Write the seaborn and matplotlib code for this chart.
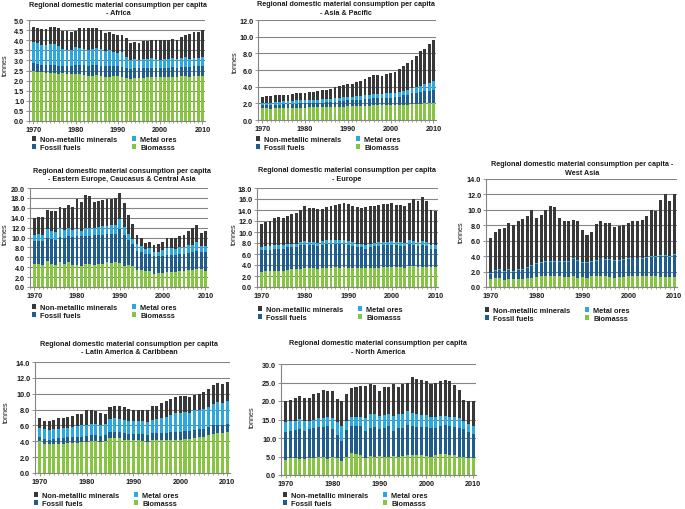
import numpy as np
import pandas as pd
import seaborn as sns
import matplotlib.pyplot as plt
from matplotlib.patches import Patch
from matplotlib.ticker import FormatStrFormatter, MultipleLocator

years = list(range(1970, 2011))
series_names = ["Non-metallic minerals", "Metal ores", "Fossil fuels", "Biomasss"]

# tonnes per capita, one list per material, 1970..2010
africa_bio = [2.5, 2.45, 2.45, 2.4, 2.4, 2.4, 2.35, 2.4, 2.35, 2.35, 2.35, 2.35, 2.3, 2.25, 2.25, 2.3, 2.25, 2.2, 2.2, 2.25,
              2.25, 2.2, 2.15, 2.1, 2.15, 2.15, 2.15, 2.2, 2.2, 2.2, 2.2, 2.2, 2.2, 2.2, 2.2, 2.25, 2.25, 2.2, 2.25, 2.25, 2.25]
africa_fossil = [0.35, 0.35, 0.3, 0.35, 0.35, 0.35, 0.35, 0.3, 0.35, 0.35, 0.4, 0.4, 0.45, 0.45, 0.5, 0.45, 0.45, 0.5, 0.5, 0.45,
                 0.45, 0.45, 0.45, 0.45, 0.45, 0.45, 0.45, 0.4, 0.4, 0.4, 0.4, 0.4, 0.4, 0.45, 0.4, 0.4, 0.4, 0.45, 0.45, 0.45, 0.45]
africa_metal = [1.05, 1.05, 1.0, 1.0, 1.05, 1.05, 1.0, 0.85, 0.8, 0.8, 0.9, 0.85, 0.8, 0.8, 0.8, 0.85, 0.85, 0.75, 0.8, 0.7,
                0.65, 0.75, 0.55, 0.45, 0.45, 0.4, 0.45, 0.45, 0.5, 0.45, 0.4, 0.45, 0.45, 0.45, 0.45, 0.45, 0.5, 0.4, 0.4, 0.4, 0.45]
africa_nonmet = [0.75, 0.75, 0.8, 0.8, 0.85, 0.85, 0.9, 0.9, 0.95, 0.9, 0.8, 1.0, 1.05, 1.1, 1.05, 1.0, 0.95, 0.9, 0.9, 0.9,
                 0.9, 0.85, 0.95, 0.85, 0.85, 0.85, 0.9, 0.9, 0.9, 0.95, 1.0, 0.95, 0.95, 0.95, 0.95, 1.05, 1.1, 1.25, 1.3, 1.3, 1.35]

asia_bio = [1.4, 1.4, 1.35, 1.4, 1.4, 1.45, 1.45, 1.5, 1.5, 1.5, 1.5, 1.55, 1.55, 1.55, 1.55, 1.55, 1.6, 1.6, 1.6, 1.6,
            1.65, 1.65, 1.65, 1.65, 1.7, 1.7, 1.75, 1.75, 1.75, 1.75, 1.75, 1.75, 1.8, 1.85, 1.85, 1.9, 1.9, 1.95, 2.0, 2.05, 2.05]
asia_fossil = [0.35, 0.4, 0.45, 0.45, 0.45, 0.45, 0.45, 0.45, 0.45, 0.5, 0.5, 0.5, 0.5, 0.55, 0.55, 0.6, 0.6, 0.6, 0.65, 0.7,
               0.7, 0.7, 0.75, 0.8, 0.8, 0.85, 0.85, 0.85, 0.9, 0.9, 0.95, 1.0, 1.0, 1.1, 1.2, 1.3, 1.4, 1.4, 1.45, 1.45, 1.55]
asia_metal = [0.35, 0.3, 0.3, 0.35, 0.35, 0.35, 0.35, 0.35, 0.4, 0.35, 0.35, 0.35, 0.35, 0.35, 0.4, 0.35, 0.35, 0.4, 0.45, 0.45,
              0.45, 0.45, 0.45, 0.45, 0.45, 0.45, 0.5, 0.5, 0.5, 0.55, 0.55, 0.55, 0.55, 0.5, 0.55, 0.6, 0.65, 0.75, 0.85, 1.0, 1.05]
asia_nonmet = [0.7, 0.75, 0.75, 0.8, 0.8, 0.8, 0.8, 0.85, 0.95, 0.95, 0.95, 0.95, 1.0, 1.05, 1.1, 1.1, 1.2, 1.35, 1.35, 1.4,
               1.5, 1.55, 1.75, 1.8, 1.95, 2.2, 2.3, 2.3, 2.15, 2.3, 2.45, 2.5, 2.75, 3.05, 3.3, 3.4, 3.75, 4.2, 4.2, 4.6, 4.95]

eeca_bio = [4.7, 4.6, 4.4, 5.3, 4.7, 4.4, 5.1, 4.6, 5.1, 4.5, 4.4, 4.2, 4.6, 4.6, 4.5, 4.7, 4.7, 5.0, 4.8, 5.0,
            4.9, 4.3, 4.4, 4.2, 3.5, 3.4, 3.2, 3.2, 2.6, 2.8, 2.9, 3.1, 3.1, 3.0, 3.3, 3.3, 3.4, 3.5, 3.7, 3.6, 3.3]
eeca_fossil = [4.5, 4.6, 4.8, 4.7, 4.9, 5.1, 5.0, 5.4, 5.2, 5.6, 5.9, 6.2, 5.7, 5.7, 6.0, 5.8, 5.9, 5.7, 6.0, 5.8,
               6.9, 6.3, 5.0, 4.4, 3.8, 3.6, 3.4, 3.4, 3.6, 3.4, 3.4, 3.3, 3.3, 3.5, 3.3, 3.3, 3.5, 3.5, 3.6, 3.4, 3.7]
eeca_metal = [1.3, 1.5, 1.4, 1.7, 1.7, 1.6, 1.9, 1.5, 1.7, 1.4, 1.4, 1.0, 1.6, 1.6, 1.5, 1.7, 1.8, 1.6, 1.7, 1.7,
              2.0, 1.6, 1.4, 1.0, 1.3, 1.3, 1.1, 1.2, 0.9, 0.8, 1.1, 1.5, 1.4, 1.2, 1.4, 1.4, 1.5, 1.5, 1.8, 1.3, 1.3]
eeca_nonmet = [3.4, 3.4, 3.6, 3.9, 4.0, 4.2, 4.2, 4.5, 4.6, 4.7, 6.0, 5.8, 6.7, 6.5, 5.2, 5.1, 5.1, 5.5, 5.3, 5.5,
               5.1, 4.8, 3.7, 3.1, 2.0, 1.7, 1.2, 1.2, 1.3, 1.6, 1.6, 2.0, 2.1, 2.2, 2.4, 2.6, 2.9, 3.4, 3.5, 2.7, 3.0]

europe_bio = [2.8, 2.9, 2.9, 3.0, 3.0, 3.0, 3.1, 3.2, 3.3, 3.3, 3.4, 3.4, 3.4, 3.3, 3.5, 3.5, 3.5, 3.6, 3.5, 3.6,
              3.5, 3.5, 3.4, 3.4, 3.4, 3.5, 3.5, 3.5, 3.7, 3.7, 3.7, 3.7, 3.7, 3.5, 3.8, 3.8, 3.6, 3.6, 3.7, 3.6, 3.6]
europe_fossil = [3.9, 3.9, 3.9, 4.0, 4.0, 4.0, 4.1, 4.1, 4.0, 4.3, 4.3, 4.2, 4.2, 4.1, 4.2, 4.3, 4.4, 4.2, 4.3, 4.2,
                 4.1, 4.0, 3.9, 3.8, 3.6, 3.7, 3.9, 4.0, 3.9, 3.9, 4.0, 3.9, 3.8, 3.9, 4.0, 3.9, 3.9, 4.0, 3.8, 3.3, 3.3]
europe_metal = [0.5, 0.6, 0.6, 0.6, 0.6, 0.6, 0.6, 0.6, 0.6, 0.6, 0.6, 0.6, 0.6, 0.6, 0.6, 0.7, 0.7, 0.7, 0.7, 0.7,
                0.7, 0.7, 0.6, 0.6, 0.6, 0.6, 0.6, 0.6, 0.6, 0.6, 0.6, 0.6, 0.6, 0.6, 0.7, 0.7, 0.7, 0.7, 0.7, 0.7, 0.7]
europe_nonmet = [4.3, 4.5, 4.6, 4.9, 5.1, 5.0, 5.2, 5.4, 5.6, 5.8, 6.5, 6.1, 6.1, 6.1, 5.9, 6.0, 6.2, 6.4, 6.6, 6.8,
                 6.8, 6.6, 6.7, 6.6, 6.9, 7.0, 6.8, 6.8, 6.9, 6.9, 6.9, 6.8, 6.8, 6.7, 6.8, 7.6, 7.4, 8.1, 7.5, 6.4, 6.3]

wasia_bio = [1.1, 1.2, 1.2, 0.9, 1.1, 1.1, 1.1, 1.0, 1.2, 1.2, 1.3, 1.4, 1.4, 1.4, 1.4, 1.4, 1.3, 1.3, 1.4, 1.2,
             1.3, 1.2, 1.4, 1.4, 1.4, 1.4, 1.3, 1.2, 1.3, 1.3, 1.4, 1.4, 1.4, 1.4, 1.4, 1.4, 1.4, 1.3, 1.3, 1.3, 1.3]
wasia_fossil = [0.6, 0.9, 1.0, 1.1, 1.1, 0.9, 1.1, 1.2, 1.3, 1.5, 1.7, 1.7, 1.9, 1.9, 1.9, 1.9, 2.0, 2.0, 2.2, 2.2,
                1.8, 1.9, 1.9, 2.0, 2.3, 2.1, 2.2, 2.2, 2.1, 2.2, 2.2, 2.3, 2.3, 2.2, 2.4, 2.5, 2.5, 2.7, 2.7, 2.6, 2.8]
wasia_metal = [0.1, 0.1, 0.1, 0.1, 0.1, 0.1, 0.1, 0.1, 0.1, 0.1, 0.1, 0.1, 0.1, 0.1, 0.1, 0.1, 0.1, 0.1, 0.1, 0.1,
               0.1, 0.1, 0.1, 0.1, 0.1, 0.1, 0.1, 0.1, 0.1, 0.1, 0.1, 0.1, 0.1, 0.1, 0.1, 0.1, 0.1, 0.1, 0.1, 0.1, 0.2]
wasia_nonmet = [4.6, 4.9, 5.2, 5.6, 6.0, 5.9, 6.3, 6.5, 6.6, 7.2, 5.9, 6.1, 6.6, 7.1, 7.0, 5.5, 5.1, 5.2, 5.0, 5.1,
                4.2, 3.5, 3.7, 4.7, 4.7, 4.7, 4.7, 4.3, 4.4, 4.4, 4.6, 4.8, 4.7, 5.0, 5.3, 6.0, 5.8, 7.2, 8.0, 7.2, 7.8]

latam_bio = [4.0, 3.7, 3.6, 3.6, 3.7, 3.7, 3.8, 3.8, 3.8, 3.9, 3.9, 4.0, 4.0, 3.9, 4.0, 4.4, 4.4, 4.4, 4.2, 4.1,
             4.1, 4.1, 4.0, 3.9, 4.1, 4.1, 4.2, 4.2, 4.2, 4.2, 4.2, 4.3, 4.3, 4.4, 4.5, 4.6, 4.8, 4.9, 5.1, 5.0, 5.2]
latam_fossil = [0.6, 0.6, 0.6, 0.7, 0.7, 0.7, 0.7, 0.7, 0.8, 0.7, 0.8, 0.8, 0.8, 0.8, 0.8, 0.8, 0.8, 0.8, 0.8, 0.8,
                0.8, 0.8, 0.9, 0.9, 0.9, 0.9, 0.9, 0.9, 1.0, 1.0, 1.0, 1.0, 1.0, 1.0, 1.0, 1.0, 1.0, 1.1, 1.0, 1.0, 1.0]
latam_metal = [1.1, 1.2, 1.2, 1.2, 1.2, 1.3, 1.2, 1.3, 1.3, 1.4, 1.4, 1.4, 1.4, 1.4, 1.4, 1.6, 1.7, 1.6, 1.7, 1.7,
               1.6, 1.6, 1.6, 1.6, 1.7, 1.8, 1.9, 2.0, 2.1, 2.4, 2.4, 2.4, 2.3, 2.5, 2.5, 2.5, 2.5, 2.7, 2.9, 2.8, 2.9]
latam_nonmet = [1.2, 1.1, 1.2, 1.2, 1.3, 1.3, 1.4, 1.4, 1.5, 1.5, 1.8, 1.8, 1.6, 1.5, 1.3, 1.5, 1.5, 1.6, 1.6, 1.5,
                1.5, 1.5, 1.5, 1.5, 1.7, 1.6, 1.8, 2.0, 2.0, 2.0, 2.1, 2.0, 2.0, 1.9, 2.0, 2.1, 2.3, 2.4, 2.4, 2.4, 2.4]

namer_bio = [4.1, 4.5, 4.6, 4.4, 4.2, 4.5, 4.6, 4.8, 4.8, 4.4, 4.8, 4.7, 3.9, 4.8, 5.9, 5.7, 5.5, 4.6, 5.1, 5.0,
             5.1, 4.9, 4.8, 5.1, 4.8, 5.1, 5.3, 5.4, 5.3, 5.3, 5.2, 5.0, 5.5, 5.7, 5.6, 5.4, 5.4, 5.0, 4.8, 4.7, 4.5]
namer_fossil = [7.4, 7.4, 7.6, 7.9, 7.6, 8.0, 8.2, 8.3, 8.2, 8.8, 7.5, 6.1, 5.4, 7.4, 7.3, 7.6, 7.7, 7.4, 7.6, 8.0,
                7.4, 7.9, 8.5, 6.9, 7.8, 7.5, 8.2, 7.8, 7.8, 7.7, 7.8, 7.8, 7.1, 7.6, 7.9, 7.9, 7.5, 7.7, 7.5, 7.0, 6.6]
namer_metal = [2.7, 2.6, 2.5, 2.8, 2.8, 2.1, 2.2, 2.3, 2.3, 2.5, 3.1, 3.4, 3.9, 2.5, 2.4, 2.4, 2.6, 3.3, 3.7, 3.6,
               3.5, 3.3, 3.3, 4.0, 3.8, 4.0, 3.8, 3.6, 3.4, 3.3, 3.2, 2.9, 3.2, 2.7, 2.5, 2.5, 2.7, 2.6, 2.3, 2.2, 2.2]
namer_nonmet = [5.7, 5.9, 6.2, 6.3, 6.3, 6.3, 6.8, 6.7, 7.6, 7.1, 7.2, 6.3, 6.7, 7.2, 7.8, 8.2, 8.3, 8.8, 8.1, 7.7,
                6.8, 7.8, 7.1, 8.6, 7.5, 8.0, 7.7, 9.6, 9.4, 9.4, 9.2, 9.0, 9.1, 9.5, 9.6, 9.7, 8.7, 7.7, 5.7, 6.1, 6.7]

colors = {"Non-metallic minerals": "#383838", "Metal ores": "#2aa8df",
          "Fossil fuels": "#1e5d8e", "Biomasss": "#86c441"}

sns.set_theme(style="white")
plt.rcParams["font.family"] = ["Liberation Sans", "DejaVu Sans"]
txt = "#1a1a1a"

fig = plt.figure(figsize=(6.85, 5.1), dpi=100)
W, H = 685, 510


def fx(x):
    return x / W


def fy(y):
    return 1 - y / H


# (title, data, ymax, ystep, axes box px (l, t, r, b), title centre, ylabel pos, legend anchor)
panels = [
    ("Regional domestic material consumption per capita\n- Africa",
     (africa_nonmet, africa_metal, africa_fossil, africa_bio), 5.0, 0.5,
     (29, 21, 205, 122), (118, 9.5), (5, 65), (32, 137)),
    ("Regional domestic material consumption per capita\n- Asia & Pacific",
     (asia_nonmet, asia_metal, asia_fossil, asia_bio), 12.0, 2.0,
     (258, 21, 436, 121), (346, 9), (235, 62), (256, 137)),
    ("Regional domestic material consumption per capita\n- Eastern Europe, Caucasus & Central Asia",
     (eeca_nonmet, eeca_metal, eeca_fossil, eeca_bio), 20.0, 2.0,
     (30, 189, 208, 288), (122, 175.5), (5, 234), (32, 305)),
    ("Regional domestic material consumption per capita\n- Europe",
     (europe_nonmet, europe_metal, europe_fossil, europe_bio), 18.0, 2.0,
     (257, 189, 438, 288), (347, 175), (234, 234), (258, 307)),
    ("Regional domestic material consumption per capita -\nWest Asia",
     (wasia_nonmet, wasia_metal, wasia_fossil, wasia_bio), 14.0, 2.0,
     (486, 180, 677, 288), (582, 169), (461, 232), (485, 308)),
    ("Regional domestic material consumption per capita\n- Latin America & Caribbean",
     (latam_nonmet, latam_metal, latam_fossil, latam_bio), 14.0, 2.0,
     (35, 363, 230, 474), (129, 348.5), (6, 412), (34, 493)),
    ("Regional domestic material consumption per capita\n- North America",
     (namer_nonmet, namer_metal, namer_fossil, namer_bio), 30.0, 5.0,
     (281, 365, 476, 476), (378, 348), (252, 417), (283, 493)),
]

for title, data, ymax, ystep, box, tpos, lpos, legpos in panels:
    l, t, r, b = box
    ax = fig.add_axes([fx(l), fy(b), fx(r - l), (b - t) / H])
    df = pd.DataFrame(dict(zip(series_names, data)))
    df["year"] = years
    # stacked: draw cumulative heights from the tallest down
    stack_order = ["Biomasss", "Fossil fuels", "Metal ores", "Non-metallic minerals"]
    cum = df[stack_order].cumsum(axis=1)
    for name in reversed(stack_order):
        sns.barplot(x=df["year"], y=cum[name], native_scale=True, color=colors[name],
                    saturation=1, width=0.66, errorbar=None, linewidth=0, ax=ax)
    ax.set_xlim(1969, 2010.6)
    ax.set_ylim(0, ymax)
    ax.set_xticks([1970, 1980, 1990, 2000, 2010])
    ax.xaxis.set_minor_locator(MultipleLocator(1))
    ax.set_yticks(np.arange(0, ymax + ystep / 2, ystep))
    ax.yaxis.set_major_formatter(FormatStrFormatter("%.1f"))
    ax.set_xlabel("")
    ax.set_ylabel("")
    ax.grid(axis="y", color="#858585", lw=0.8)
    ax.set_axisbelow(True)
    for s in ["top", "right"]:
        ax.spines[s].set_visible(False)
    for s in ["left", "bottom"]:
        ax.spines[s].set_color("#858585")
        ax.spines[s].set_linewidth(0.8)
    ax.tick_params(axis="both", which="major", labelsize=5.2, length=2, width=0.6,
                   color="#858585", pad=1.5, labelcolor=txt, left=True, bottom=True)
    ax.tick_params(axis="x", which="minor", length=1.5, width=0.5, color="#858585", bottom=True)
    for lab in ax.get_xticklabels() + ax.get_yticklabels():
        lab.set_fontweight("bold")

    fig.text(fx(tpos[0]), fy(tpos[1]), title, ha="center", va="center", fontsize=5.2,
             fontweight="bold", color=txt, linespacing=1.25)
    fig.text(fx(lpos[0]), fy(lpos[1]), "tonnes", rotation=90, ha="center", va="center",
             fontsize=5.2, color=txt)

    order = ["Non-metallic minerals", "Fossil fuels", "Metal ores", "Biomasss"]
    handles = [Patch(facecolor=colors[n], edgecolor="none") for n in order]
    leg = fig.legend(handles, order, ncol=2, loc="upper left", bbox_to_anchor=(fx(legpos[0]), fy(legpos[1])),
                     frameon=False, fontsize=5.3, handlelength=0.6, handleheight=0.6,
                     handletextpad=0.5, columnspacing=2.0, labelspacing=0.15,
                     borderpad=0, borderaxespad=0)
    for tx in leg.get_texts():
        tx.set_color(txt)
        tx.set_fontweight("bold")

fig.savefig("out.png", dpi=100)
